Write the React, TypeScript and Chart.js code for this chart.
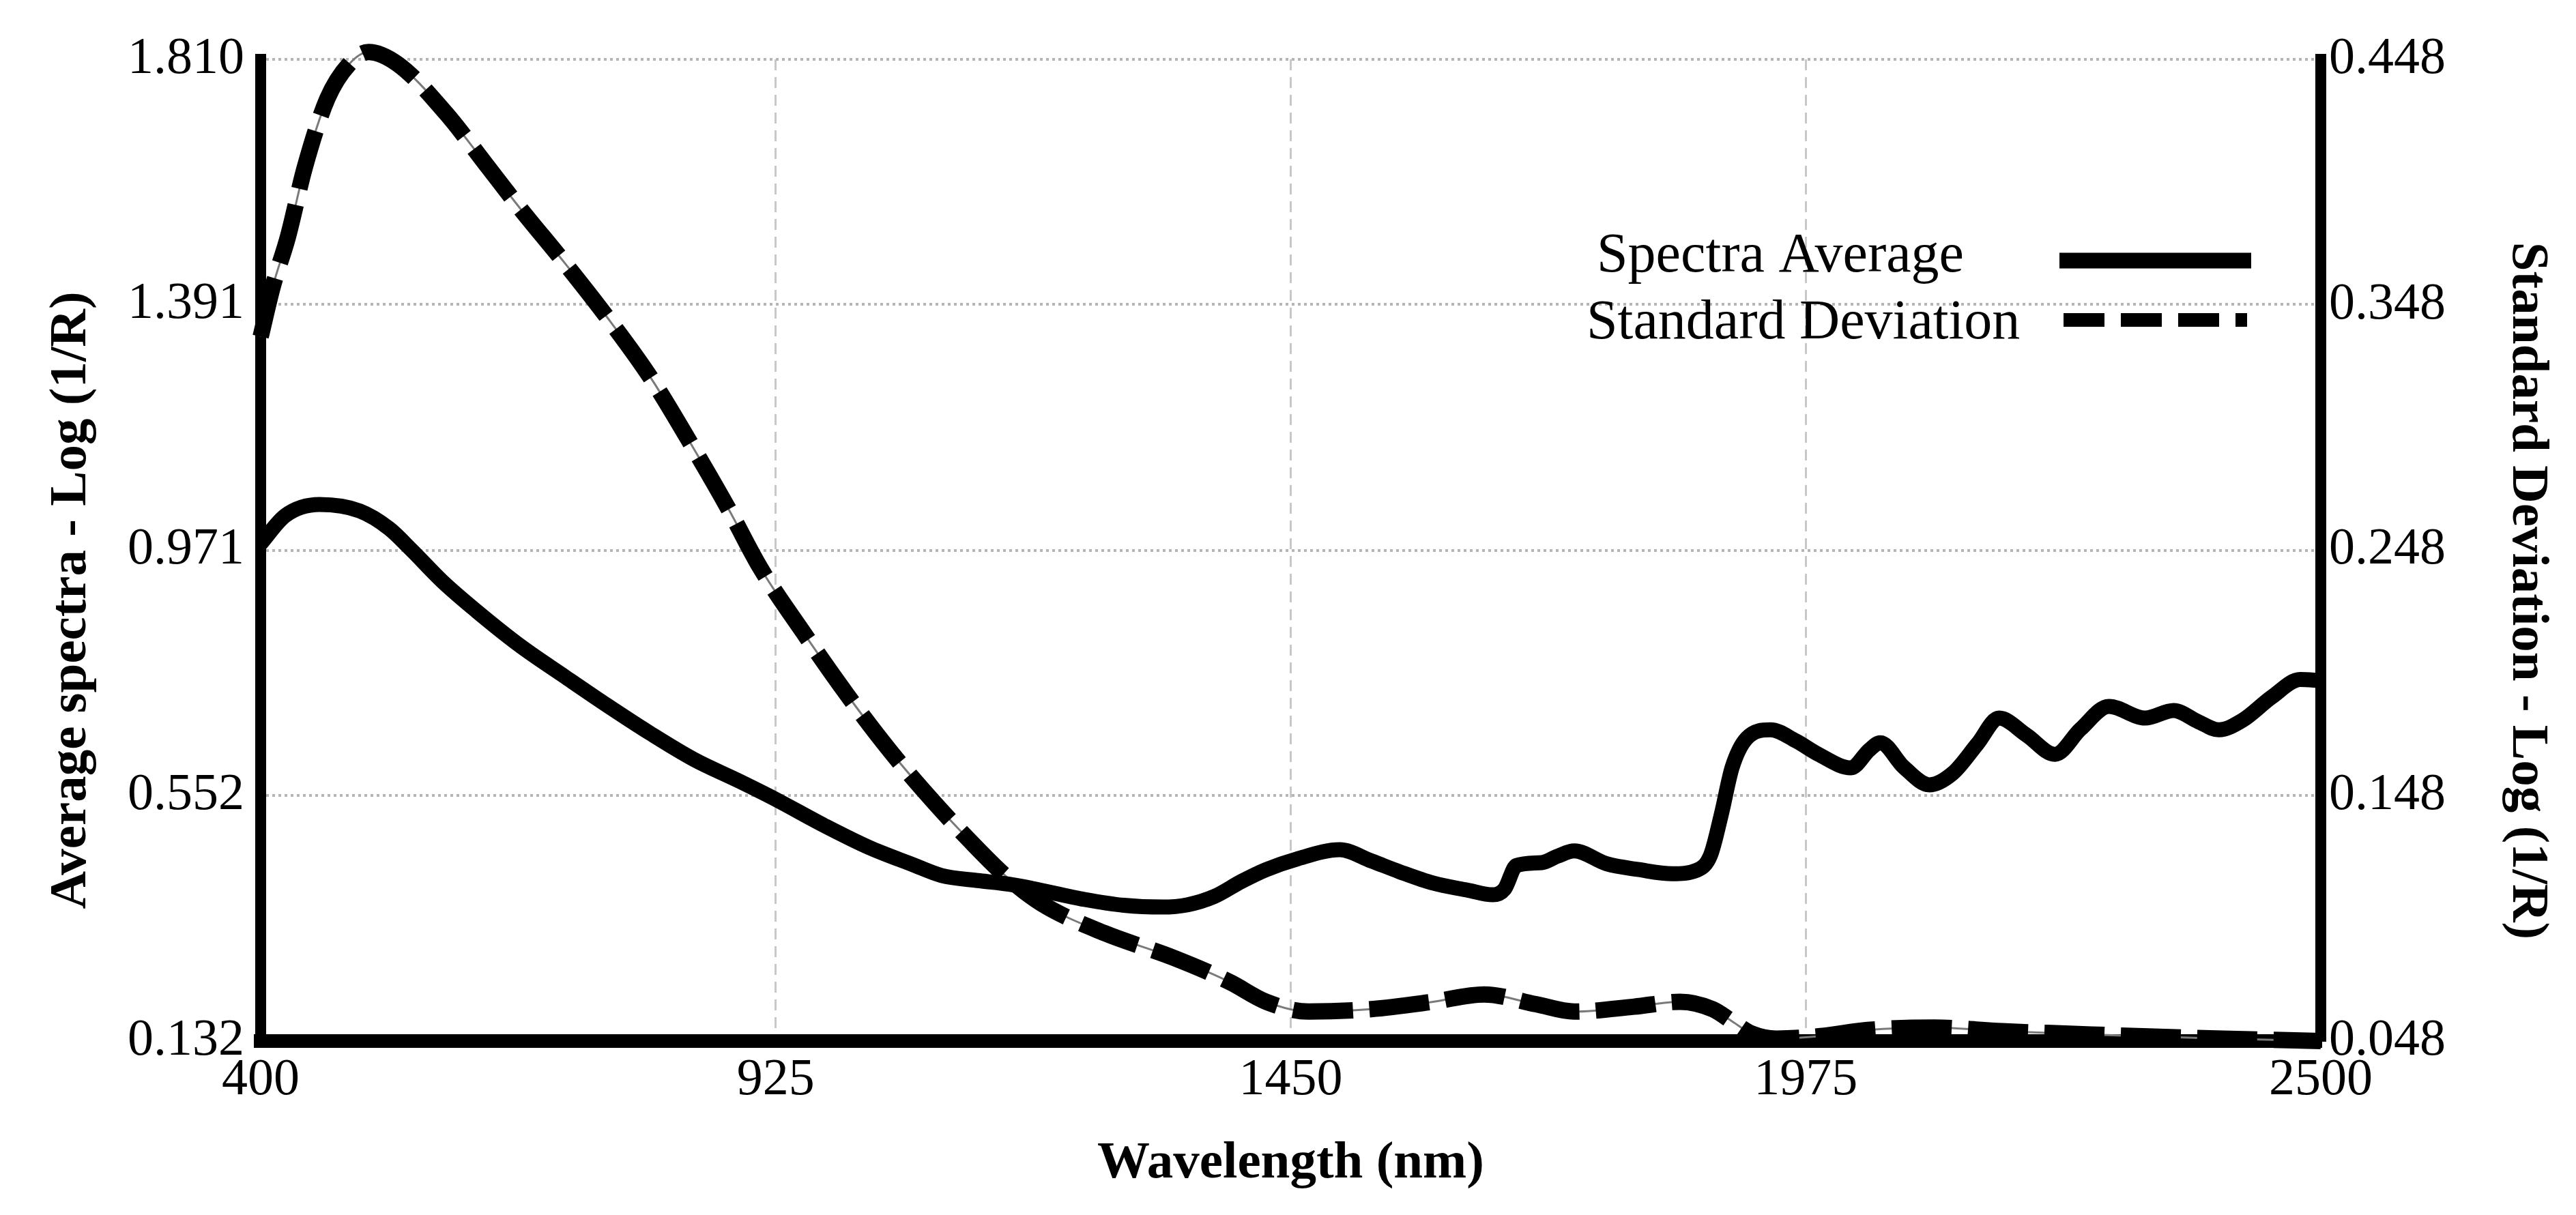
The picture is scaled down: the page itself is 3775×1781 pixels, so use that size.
import React, { useEffect, useRef } from "react";
import { Chart, registerables } from "chart.js";

Chart.register(...registerables);

// axis ticks
const xTicks = [400, 925, 1450, 1975, 2500];
const leftTicks = [0.132, 0.552, 0.971, 1.391, 1.81];
const rightTicks = [0.048, 0.148, 0.248, 0.348, 0.448];

const legendLabels = ["Spectra Average", "Standard Deviation"];
const xTitle = "Wavelength (nm)";
const leftTitle = "Average spectra - Log (1/R)";
const rightTitle = "Standard Deviation - Log (1/R)";

// Spectra Average (left axis)
const avgWavelength = [
  400, 425, 460, 501, 531, 554, 585, 620, 665, 710, 753, 798, 842, 887, 924,
  975, 1020, 1064, 1094, 1133, 1163, 1186, 1240, 1280, 1319, 1345, 1372, 1400,
  1425, 1456, 1500, 1532, 1560, 1595, 1630, 1656, 1668, 1680, 1706, 1722,
  1739, 1772, 1805, 1839, 1864, 1878, 1889, 1900, 1915, 1939, 1965, 1988,
  2021, 2040, 2051, 2075, 2101, 2125, 2150, 2172, 2200, 2229, 2255, 2284,
  2321, 2350, 2375, 2396, 2420, 2450, 2479, 2500,
];
const avgValues = [
  0.982, 1.03, 1.049, 1.038, 1.008, 0.971, 0.918, 0.867, 0.807, 0.755, 0.706,
  0.657, 0.613, 0.577, 0.546, 0.5, 0.463, 0.434, 0.415, 0.406, 0.4, 0.393,
  0.374, 0.364, 0.361, 0.365, 0.379, 0.405, 0.425, 0.443, 0.459, 0.44, 0.422,
  0.402, 0.39, 0.382, 0.392, 0.432, 0.437, 0.448, 0.457, 0.435, 0.425, 0.418,
  0.424, 0.45, 0.52, 0.6, 0.65, 0.664, 0.645, 0.622, 0.599, 0.63, 0.642, 0.6,
  0.57, 0.59, 0.64, 0.684, 0.655, 0.622, 0.665, 0.704, 0.684, 0.697, 0.678,
  0.664, 0.68, 0.72, 0.75, 0.748,
];

// Standard Deviation (right axis)
const sdWavelength = [
  400, 412, 428, 445, 468, 490, 510, 540, 589, 630, 665, 710, 753, 798, 842,
  878, 909, 954, 998, 1042, 1087, 1122, 1160, 1196, 1260, 1330, 1388, 1425,
  1468, 1532, 1595, 1647, 1700, 1739, 1800, 1847, 1880, 1900, 1920, 1945,
  1990, 2038, 2106, 2175, 2244, 2313, 2400, 2500,
];
const sdValues = [
  0.335, 0.355, 0.376, 0.404, 0.432, 0.446, 0.451, 0.446, 0.426, 0.405, 0.387,
  0.365, 0.343, 0.318, 0.289, 0.264, 0.241, 0.214, 0.189, 0.166, 0.145, 0.13,
  0.115, 0.104, 0.092, 0.082, 0.072, 0.064, 0.06, 0.061, 0.064, 0.067, 0.063,
  0.06, 0.062, 0.064, 0.061, 0.056, 0.051, 0.049, 0.05, 0.0525, 0.0535, 0.052,
  0.051, 0.05, 0.049, 0.048,
];

const serif = "'Liberation Serif', 'Times New Roman', serif";

const toPoints = (xs: number[], ys: number[]) =>
  xs.map((x, i) => ({ x, y: ys[i] }));

// legend (text left, sample right) and the two rotated y titles
const annotationsPlugin = {
  id: "sideAnnotations",
  afterDraw(chart: Chart) {
    const { ctx, chartArea } = chart;
    const x0 = chartArea.left;
    const y0 = chartArea.top;
    ctx.save();
    ctx.fillStyle = "#000";
    ctx.font = `82px ${serif}`;
    ctx.textAlign = "left";
    ctx.textBaseline = "middle";
    ctx.fillText(legendLabels[0], x0 + 1958, y0 + 289);
    ctx.fillText(legendLabels[1], x0 + 1943, y0 + 387);

    ctx.strokeStyle = "#000";
    ctx.lineCap = "butt";
    ctx.lineWidth = 23;
    ctx.beginPath();
    ctx.moveTo(x0 + 2636, y0 + 295);
    ctx.lineTo(x0 + 2917, y0 + 295);
    ctx.stroke();

    ctx.lineWidth = 20;
    ctx.setLineDash([60, 24]);
    ctx.beginPath();
    ctx.moveTo(x0 + 2642, y0 + 382);
    ctx.lineTo(x0 + 2911, y0 + 382);
    ctx.stroke();
    ctx.setLineDash([]);

    ctx.font = `bold 77px ${serif}`;
    ctx.textAlign = "center";
    ctx.save();
    ctx.translate(chartArea.left - 277, y0 + 793);
    ctx.rotate(-Math.PI / 2);
    ctx.fillText(leftTitle, 0, 0);
    ctx.restore();

    ctx.save();
    ctx.translate(chartArea.right + 302, y0 + 779);
    ctx.rotate(Math.PI / 2);
    ctx.fillText(rightTitle, 0, 0);
    ctx.restore();

    ctx.restore();
  },
};

const App: React.FC = () => {
  const canvasRef = useRef<HTMLCanvasElement>(null);
  const chartRef = useRef<Chart | null>(null);

  useEffect(() => {
    if (!canvasRef.current) return;
    const ctx = canvasRef.current.getContext("2d");
    if (!ctx) return;

    const sdPoints = toPoints(sdWavelength, sdValues);

    chartRef.current = new Chart(ctx, {
      type: "line",
      data: {
        datasets: [
          {
            label: legendLabels[0],
            data: toPoints(avgWavelength, avgValues),
            yAxisID: "y",
            borderColor: "#000",
            borderWidth: 22,
            pointRadius: 0,
            cubicInterpolationMode: "monotone",
            borderJoinStyle: "round",
            borderCapStyle: "round",
            order: 1,
          },
          {
            label: legendLabels[1],
            data: sdPoints,
            yAxisID: "y1",
            borderColor: "#000",
            borderWidth: 24,
            borderDash: [88, 24],
            pointRadius: 0,
            cubicInterpolationMode: "monotone",
            clip: false,
            order: 2,
          },
          {
            label: "sd-guide",
            data: sdPoints,
            yAxisID: "y1",
            borderColor: "#7a7a7a",
            borderWidth: 3,
            pointRadius: 0,
            cubicInterpolationMode: "monotone",
            clip: false,
            order: 3,
          },
        ],
      },
      options: {
        responsive: false,
        devicePixelRatio: 1,
        animation: false,
        events: [],
        layout: { padding: { top: 87, left: 0, right: 0, bottom: 0 } },
        plugins: {
          legend: { display: false },
          tooltip: { enabled: false },
        },
        scales: {
          x: {
            type: "linear",
            min: 400,
            max: 2500,
            afterBuildTicks: (axis: any) => {
              axis.ticks = xTicks.map((v) => ({ value: v }));
            },
            afterFit: (axis: any) => {
              axis.height = 255;
            },
            grid: { color: "#c8c8c8", lineWidth: 3, drawTicks: false },
            border: { display: true, color: "#000", width: 20, dash: [16, 10] },
            ticks: {
              color: "#000",
              font: { family: serif, size: 76 },
              padding: 12,
              maxRotation: 0,
              autoSkip: false,
              callback: (v: any) => String(v),
            },
            title: {
              display: true,
              text: xTitle,
              color: "#000",
              font: { family: serif, size: 77, weight: "bold" },
              padding: { top: 0, bottom: 29 },
            },
          },
          y: {
            type: "linear",
            position: "left",
            min: leftTicks[0],
            max: leftTicks[leftTicks.length - 1],
            afterBuildTicks: (axis: any) => {
              axis.ticks = leftTicks.map((v) => ({ value: v }));
            },
            afterFit: (axis: any) => {
              axis.width = 382;
            },
            grid: { color: "#b5b5b5", lineWidth: 4, drawTicks: false },
            border: { display: true, color: "#000", width: 16, dash: [4, 5] },
            ticks: {
              color: "#000",
              font: { family: serif, size: 76 },
              padding: 24,
              callback: (v: any) => Number(v).toFixed(3),
            },
          },
          y1: {
            type: "linear",
            position: "right",
            min: rightTicks[0],
            max: rightTicks[rightTicks.length - 1],
            afterBuildTicks: (axis: any) => {
              axis.ticks = rightTicks.map((v) => ({ value: v }));
            },
            afterFit: (axis: any) => {
              axis.width = 374;
            },
            grid: { drawOnChartArea: false, drawTicks: false },
            border: { display: true, color: "#000", width: 16 },
            ticks: {
              color: "#000",
              font: { family: serif, size: 76 },
              padding: 12,
              callback: (v: any) => Number(v).toFixed(3),
            },
          },
        },
      } as any,
      plugins: [annotationsPlugin],
    });

    return () => {
      if (chartRef.current) {
        chartRef.current.destroy();
        chartRef.current = null;
      }
    };
  }, []);

  return (
    <div
      style={{
        position: "absolute",
        left: 0,
        top: 0,
        width: "3775px",
        height: "1781px",
        background: "#fff",
      }}
    >
      <canvas
        ref={canvasRef}
        width={3775}
        height={1781}
        style={{ display: "block", width: "3775px", height: "1781px" }}
      ></canvas>
    </div>
  );
};

export default App;
